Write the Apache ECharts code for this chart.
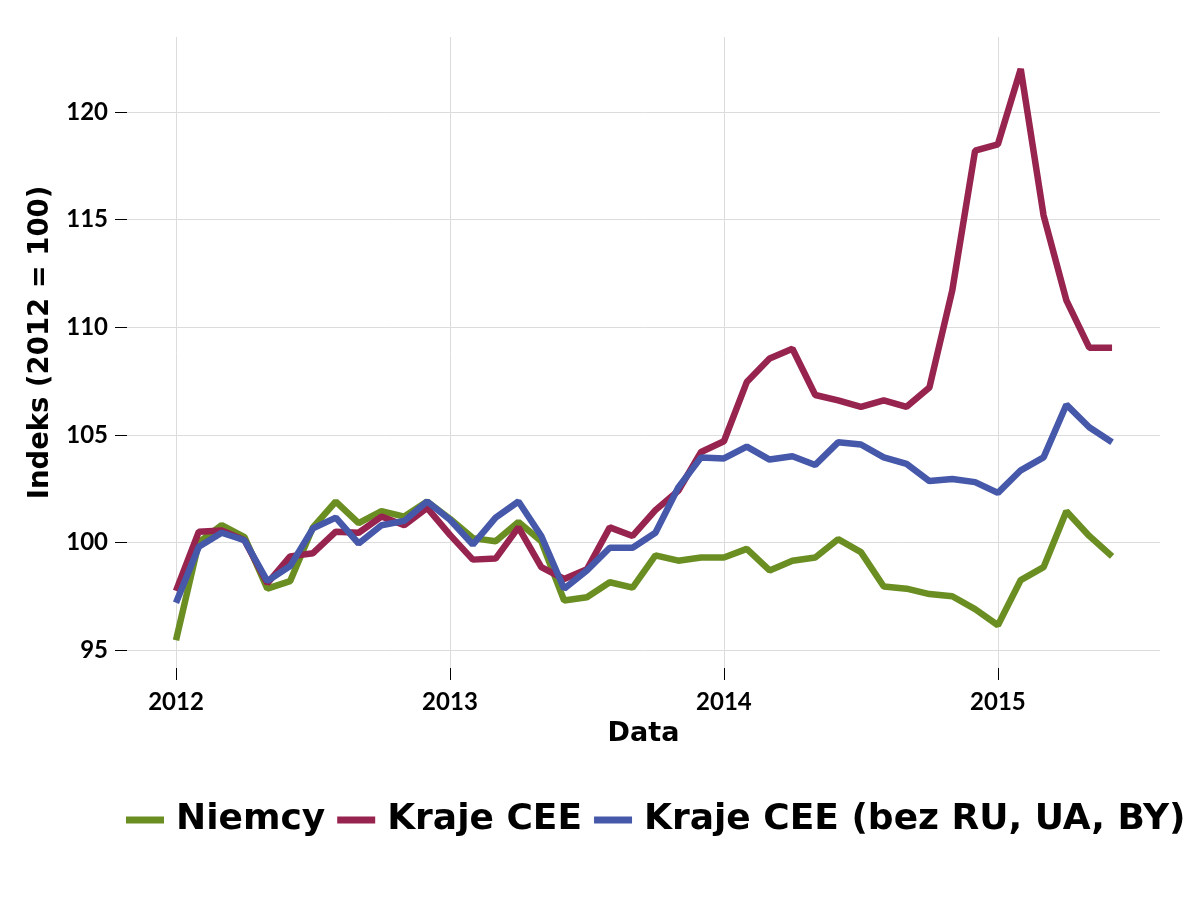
<!DOCTYPE html>
<html>
<head>
<meta charset="utf-8">
<script src="https://cdn.jsdelivr.net/npm/echarts@6/dist/echarts.min.js"></script>
<style>html,body{margin:0;padding:0;background:#fff;}#c{width:1200px;height:900px;}</style>
</head>
<body>
<div id="c"></div>
<script>
// Monthly index values, Jan 2012 .. Jun 2015
const months = ['2012-01','2012-02','2012-03','2012-04','2012-05','2012-06','2012-07','2012-08','2012-09','2012-10','2012-11','2012-12',
  '2013-01','2013-02','2013-03','2013-04','2013-05','2013-06','2013-07','2013-08','2013-09','2013-10','2013-11','2013-12',
  '2014-01','2014-02','2014-03','2014-04','2014-05','2014-06','2014-07','2014-08','2014-09','2014-10','2014-11','2014-12',
  '2015-01','2015-02','2015-03','2015-04','2015-05','2015-06'];
const niemcy = [95.45,100.0,100.8,100.25,97.85,98.2,100.7,101.9,100.9,101.45,101.2,101.9,
  101.1,100.2,100.05,100.95,100.05,97.3,97.45,98.15,97.9,99.4,99.15,99.3,
  99.3,99.7,98.7,99.15,99.3,100.15,99.55,97.95,97.85,97.6,97.5,96.9,
  96.15,98.25,98.85,101.45,100.3,99.35];
const krajeCEE = [97.75,100.5,100.55,100.1,98.1,99.35,99.5,100.5,100.45,101.2,100.8,101.6,
  100.35,99.2,99.25,100.7,98.85,98.3,98.75,100.7,100.3,101.5,102.4,104.2,
  104.7,107.45,108.55,109.0,106.85,106.6,106.3,106.6,106.3,107.2,111.7,118.2,
  118.5,122.0,115.2,111.25,109.05,109.05];
const krajeCEEbez = [97.2,99.8,100.45,100.1,98.2,98.9,100.65,101.15,99.95,100.8,101.0,101.9,
  101.05,99.9,101.15,101.9,100.3,97.85,98.7,99.75,99.75,100.45,102.55,103.95,
  103.9,104.45,103.85,104.0,103.6,104.65,104.55,103.95,103.65,102.85,102.95,102.8,
  102.3,103.35,103.95,106.4,105.35,104.65];
const seriesNames = ['Niemcy','Kraje CEE','Kraje CEE (bez RU, UA, BY)'];
const yearLabels = ['2012','2013','2014','2015'];
const yTicks = [95,100,105,110,115,120];

// x position = months since Jan 2012
const monthIndex = months.map(m => {
  const [y, mo] = m.split('-').map(Number);
  return (y - 2012) * 12 + (mo - 1);
});
const yearTicks = yearLabels.map(y => (Number(y) - 2012) * 12);
const toData = arr => arr.map((v, i) => [monthIndex[i], v]);

const colors = ['#6b8e23', '#97234f', '#4658a9'];
const chart = echarts.init(document.getElementById('c'), null, {renderer: 'canvas'});
const gridCol = '#dcdcdc';
chart.setOption({
  animation: false,
  backgroundColor: '#ffffff',
  color: colors,
  grid: {left: 127, right: 40, top: 37, bottom: 232},
  legend: {
    left: 121, top: 797,
    icon: 'rect', itemWidth: 38, itemHeight: 7, itemGap: 12,
    textStyle: {fontFamily: 'DejaVu Sans', fontWeight: 'bold', fontSize: 36, color: '#000', padding: [0, 0, 0, 7]},
    data: seriesNames
  },
  xAxis: {
    type: 'value', min: -2.146, max: 43.10,
    name: 'Data', nameLocation: 'middle', nameGap: 52,
    nameTextStyle: {fontFamily: 'DejaVu Sans', fontWeight: 'bold', fontSize: 27, color: '#000'},
    axisLine: {show: false, onZero: false},
    axisTick: {show: true, length: 12, customValues: yearTicks, lineStyle: {color: '#000', width: 1}},
    axisLabel: {customValues: yearTicks, margin: 22, fontFamily: 'Lato', fontWeight: 'bold', fontSize: 24, color: '#000',
      formatter: v => yearLabels[Math.round(v / 12)]},
    splitLine: {show: true, lineStyle: {color: gridCol, width: 1}}
  },
  yAxis: {
    type: 'value', min: 94.164, max: 123.485,
    name: 'Indeks (2012 = 100)', nameLocation: 'middle', nameGap: 61,
    nameTextStyle: {fontFamily: 'DejaVu Sans', fontWeight: 'bold', fontSize: 27.5, color: '#000', padding: [0, 0, 0, 20]},
    axisLine: {show: false, onZero: false},
    axisTick: {show: true, length: 12, customValues: yTicks, lineStyle: {color: '#000', width: 1}},
    axisLabel: {customValues: yTicks, margin: 19, fontFamily: 'Lato', fontWeight: 'bold', fontSize: 24, color: '#000'},
    splitLine: {show: true, lineStyle: {color: gridCol, width: 1}}
  },
  series: [niemcy, krajeCEE, krajeCEEbez].map((arr, k) => ({
    name: seriesNames[k], type: 'line', data: toData(arr),
    showSymbol: false, symbol: 'none',
    lineStyle: {width: 6.5, color: colors[k]},
    itemStyle: {color: colors[k]},
    z: 2 + k
  }))
});
</script>
</body>
</html>
